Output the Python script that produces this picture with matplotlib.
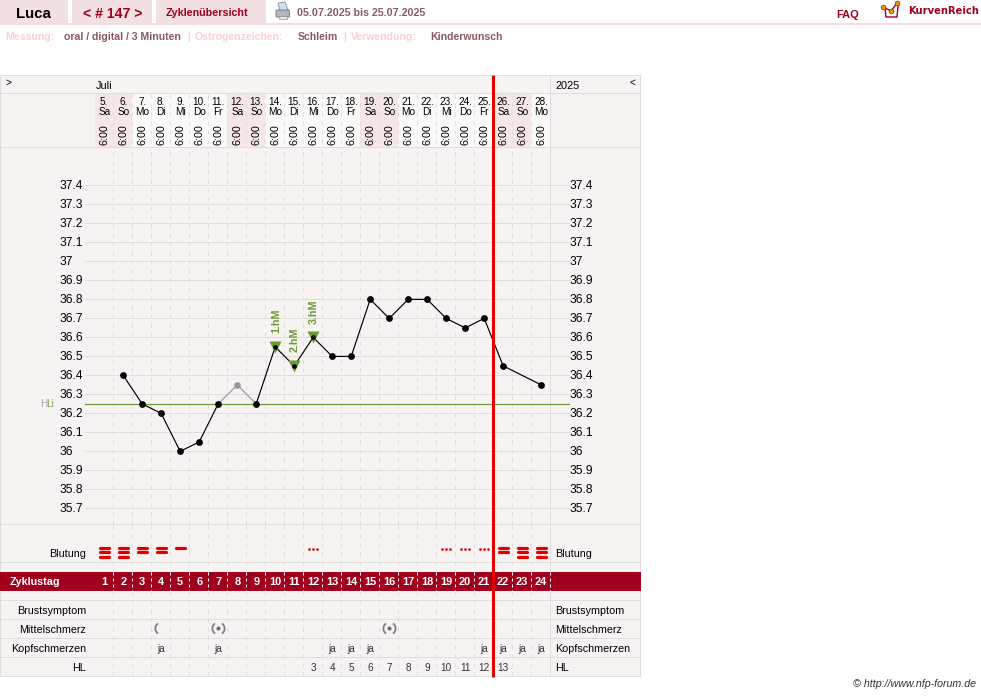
"""
Cycle temperature chart with header strip and symptom rows.
"""

import matplotlib

matplotlib.use("Agg")
import matplotlib.pyplot as plt
from matplotlib.patches import FancyBboxPatch, Polygon, Rectangle
from matplotlib.path import Path

plt.rcParams["font.family"] = ["Liberation Sans", "DejaVu Sans"]

W, H = 981, 696

# chart values
months = "Juli"
year = "2025"
dates = [5, 6, 7, 8, 9, 10, 11, 12, 13, 14, 15, 16, 17, 18, 19, 20, 21, 22, 23, 24, 25, 26, 27, 28]
weekdays = ["Sa", "So", "Mo", "Di", "Mi", "Do", "Fr", "Sa", "So", "Mo", "Di", "Mi", "Do", "Fr", "Sa", "So", "Mo", "Di", "Mi", "Do", "Fr", "Sa", "So", "Mo"]
cycle_days = list(range(1, 25))
temp_ticks = [37.4, 37.3, 37.2, 37.1, 37, 36.9, 36.8, 36.7, 36.6, 36.5, 36.4, 36.3, 36.2, 36.1, 36, 35.9, 35.8, 35.7]
temp_days = [2, 3, 4, 5, 6, 7, 8, 9, 10, 11, 12, 13, 14, 15, 16, 17, 18, 19, 20, 21, 22, 24]
temp_values = [36.4, 36.25, 36.2, 36.0, 36.05, 36.25, 36.35, 36.25, 36.55, 36.45, 36.6, 36.5, 36.5, 36.8, 36.7, 36.8, 36.8, 36.7, 36.65, 36.7, 36.45, 36.35]
excluded_day = 8
coverline = 36.25
peak_days = [10, 11, 12]
peak_values = [36.55, 36.45, 36.6]
peak_labels = ["1.hM", "2.hM", "3.hM"]

bleeding_days = [1, 2, 3, 4, 5, 12, 19, 20, 21, 22, 23, 24]
bleeding_levels = [3, 3, 2, 2, 1, 0, 0, 0, 0, 2, 3, 3]
midpain_days = [4, 7, 16]
midpain_kind = ["left", "both", "both"]
headache_days = [4, 7, 13, 14, 15, 21, 22, 23, 24]
hl_days = [12, 13, 14, 15, 16, 17, 18, 19, 20, 21, 22]
hl_values = [3, 4, 5, 6, 7, 8, 9, 10, 11, 12, 13]
row_names = ["Brustsymptom", "Mittelschmerz", "Kopfschmerzen", "HL"]

# colours
PANEL = "#f8f3f3"
CELL = "#fbf8f8"
WEEKEND = "#f5e6e7"
GRID = "#e0dddd"
TAB = "#f3e0e2"
PINK = "#f6dce0"
DARK = "#a0001e"
RED = "#e00000"
GREEN = "#6a9a32"
PAIN = "#808080"
THIN = 0.72
DASH = (0, (4, 5))


def px(size):
    # font size in page pixels
    return size * 0.72


def pixel_axes(box, xlim, ylim, zorder):
    # axes placed by page pixels (x0, y0, x1, y1), y pointing down on the page
    x0, y0, x1, y1 = box
    ax = fig.add_axes([x0 / W, 1 - y1 / H, (x1 - x0) / W, (y1 - y0) / H], zorder=zorder)
    ax.set_xlim(*xlim)
    ax.set_ylim(*ylim)
    ax.axis("off")
    ax.patch.set_alpha(0)
    return ax


fig = plt.figure(figsize=(W / 100, H / 100), dpi=100, facecolor="white")

left, right = 94.7, 550.7
top, bottom = 148, 524.5
y_of_374 = 185.4
temp_per_px = 0.1 / 19
day_range = (0.5, 24.5)
# column rules sit just left of the day boundary so they snap onto the pixel
EDGE = 0.4 / 19


def day_at(x_px):
    # page pixel to day units, for things running past the day columns
    return 0.5 + (x_px - left) / 19


page = pixel_axes((0, 0, W, H), (0, W), (H, 0), 0)
head = pixel_axes((left, 93.5, right, top), day_range, (top, 93.5), 1)
chart = pixel_axes(
    (left, top, right, bottom),
    day_range,
    (37.4 - (bottom - y_of_374) * temp_per_px, 37.4 + (y_of_374 - top) * temp_per_px),
    2,
)
rows = pixel_axes((left, bottom, right, 677), day_range, (677, bottom), 3)
front = pixel_axes((0, 0, W, H), (0, W), (H, 0), 4)

# header tabs
page.add_patch(Rectangle((0, 0), 68, 23, fc=TAB, ec="none"))
page.add_patch(Rectangle((72, 0), 80, 23, fc=TAB, ec="none"))
page.add_patch(Rectangle((156, 0), 110, 23, fc=TAB, ec="none"))
page.add_patch(Rectangle((0, 23), W, 2, fc=PINK, ec="none"))
page.text(33, 18, "Luca", fontsize=px(15), fontweight="bold", color="black", ha="center")
page.text(113, 18, "< # 147 >", fontsize=px(14), fontweight="bold", color=DARK, ha="center")
page.text(207, 16, "Zyklenübersicht", fontsize=px(10.8), fontweight="bold", color=DARK, ha="center")
page.text(297, 16, "05.07.2025 bis 25.07.2025", fontsize=px(10.6), fontweight="bold", color="#8a5a62")
page.text(836, 18, "FAQ", fontsize=px(11), fontweight="bold", color=DARK)
page.text(908, 14, "KurvenReich", fontsize=px(10), fontweight="bold", color=DARK, family="DejaVu Sans")

# printer icon
page.add_patch(Polygon([(278, 3), (285, 2), (288, 10), (280, 11)], fc="#cfe0f0", ec="#7f8fa0", lw=0.6))
page.add_patch(FancyBboxPatch((276.5, 10.5), 12.5, 6, boxstyle="round,pad=0.5", fc="#b4b8bc", ec="#70757a", lw=0.6))
page.add_patch(Rectangle((279, 16), 8, 2.5, fc="#e8e8e8", ec="#808080", lw=0.4))

# logo
page.plot([885, 886, 897, 898], [8, 17, 17, 6], color=DARK, lw=1)
page.plot([883, 891, 897], [7, 11, 3], color=DARK, lw=1)
page.plot([883, 891, 897], [7, 11, 3], "o", color="#f09010", ms=3.5, mec=DARK, mew=0.4)

# info line
info = [
    (5, "Messung:", "#fbd0d4"),
    (64, "oral / digital / 3 Minuten", "#8a5a62"),
    (187, "|", "#fbd0d4"),
    (195, "Östrogenzeichen:", "#fbd0d4"),
    (298, "Schleim", "#8a5a62"),
    (343, "|", "#fbd0d4"),
    (351, "Verwendung:", "#fbd0d4"),
    (430, "Kinderwunsch", "#8a5a62"),
]
for x0, label, colour in info:
    page.text(x0, 40, label, fontsize=px(10.5), fontweight="bold", color=colour)

# panel and rules
page.add_patch(Rectangle((0, 75), 640, 601, fc=PANEL, ec=GRID, lw=THIN, zorder=0))
for y0 in [93, 147, 524, 562, 600, 619, 638, 657]:
    page.plot([0, 640], [y0, y0], color=GRID, lw=THIN, zorder=2)
page.plot([550, 550], [75, 676], color=GRID, lw=THIN, zorder=2)

# day header cells and labels
for day, date, weekday in zip(cycle_days, dates, weekdays):
    colour = WEEKEND if weekday in ("Sa", "So") else CELL
    head.add_patch(Rectangle((day - 0.5 - EDGE, 94), 1, 53, fc=colour, ec="none", zorder=1))
    head.text(day, 105, f"{date}.", fontsize=px(10), ha="center", zorder=3)
    head.text(day, 115, weekday, fontsize=px(10), ha="center", zorder=3)
    head.text(day, 135, "6:00", fontsize=px(10.8), rotation=90, ha="center", va="center", zorder=3)
    head.plot([day - 0.5 - EDGE] * 2, [94, 147], color=GRID, lw=THIN, ls=DASH, zorder=2)

# dashed day columns, broken by the cycle day band
for day in cycle_days:
    edge = day - 0.5 - EDGE
    chart.plot([edge] * 2, chart.get_ylim(), color=GRID, lw=THIN, ls=DASH, zorder=1)
    rows.plot([edge] * 2, [bottom, 572], color=GRID, lw=THIN, ls=DASH, zorder=1)
    rows.plot([edge] * 2, [591, 677], color=GRID, lw=THIN, ls=DASH, zorder=1)

# temperature grid and labels
for value in temp_ticks:
    y0 = y_of_374 + (37.4 - value) / temp_per_px
    chart.plot([day_at(85), day_at(569)], [value, value], color=GRID, lw=THIN, zorder=1, clip_on=False)
    label = f"{value:g}"
    page.text(60, y0 + 3.8, label, fontsize=px(12), color="black")
    page.text(570, y0 + 3.8, label, fontsize=px(12), color="black")

# month header
page.text(6, 83, ">", fontsize=px(10), color="black", va="center")
page.text(96, 89, months, fontsize=px(11), color="black")
page.text(555, 89, year, fontsize=px(11), color="black")
page.text(630, 83, "<", fontsize=px(10), color="black", va="center")

# coverline, past both column edges
chart.plot([day_at(85), day_at(569)], [coverline, coverline], color=GREEN, lw=0.85, zorder=4, clip_on=False)
page.text(40, 407, "H", fontsize=px(10), color="#a8a8a8", zorder=4)
page.text(46, 407, "Li", fontsize=px(10), color="#88aa60", zorder=4)

# temperature curve, the excluded day stays grey
idx = temp_days.index(excluded_day)
chart.plot(temp_days[: idx], temp_values[: idx], color="black", lw=0.85, zorder=5)
chart.plot(temp_days[idx - 1 : idx + 2], temp_values[idx - 1 : idx + 2], color="#999999", lw=0.85, zorder=5)
chart.plot(temp_days[idx + 1 :], temp_values[idx + 1 :], color="black", lw=0.85, zorder=5)

# peak markers behind the points
for day, value, label in zip(peak_days, peak_values, peak_labels):
    chart.plot([day], [value], marker="v", ms=9, color=GREEN, mec="none", zorder=6)
    chart.annotate(
        label,
        (day, value),
        xytext=(0.5, 10),
        textcoords="offset points",
        rotation=90,
        ha="center",
        va="bottom",
        fontsize=px(10.8),
        fontweight="bold",
        color=GREEN,
        zorder=6,
    )

for day, value in zip(temp_days, temp_values):
    if day == excluded_day:
        chart.plot([day], [value], "o", color="#999999", ms=4.8, mec="none", zorder=7)
    elif day in peak_days:
        chart.plot([day], [value], "o", color="black", ms=3.4, mec="none", zorder=7)
    else:
        chart.plot([day], [value], "o", color="black", ms=4.9, mec="none", zorder=7)

# row labels on both sides
page.text(86, 557, "Blutung", fontsize=px(10.7), ha="right")
page.text(555, 557, "Blutung", fontsize=px(10.7))
for y0, name in zip([614, 633, 652, 671], row_names):
    page.text(86, y0, name, fontsize=px(10.7), ha="right")
    page.text(555, y0, name, fontsize=px(10.7))

# bleeding marks, one stripe per level, dots for spotting
for day, level in zip(bleeding_days, bleeding_levels):
    if level == 0:
        rows.plot([day - 0.2, day, day + 0.2], [548.5] * 3, "o", color=RED, ms=1.9, mec="none", zorder=5)
    else:
        for k in range(level):
            rows.plot([day - 0.24, day + 0.24], [548.2 + 4.2 * k] * 2, color=RED, lw=2.3, solid_capstyle="round", zorder=5)

# cycle day band
page.add_patch(Rectangle((0, 572), 640.5, 19, fc=DARK, ec="none", zorder=3))
page.text(10, 585, "Zyklustag", fontsize=px(10.7), fontweight="bold", color="white", zorder=4)
for day in cycle_days:
    rows.text(day, 585, str(day), fontsize=px(11), fontweight="bold", color="white", ha="center", zorder=6)
    rows.plot([day - 0.5 - EDGE] * 2, [572, 591], color="white", lw=THIN, ls=(0, (3, 3)), zorder=6)
rows.plot([24.5 - EDGE] * 2, [572, 591], color="white", lw=THIN, ls=(0, (3, 3)), zorder=6)

# middle pain symbols, arcs around a dot
left_arc = Path.arc(125, 235)
right_arc = Path.arc(-55, 55)
for day, kind in zip(midpain_days, midpain_kind):
    rows.plot([day], [628.3], marker=left_arc, ms=8.8, mfc="none", mec=PAIN, mew=1.3, zorder=5)
    if kind == "both":
        rows.plot([day], [628.3], marker=right_arc, ms=8.8, mfc="none", mec=PAIN, mew=1.3, zorder=5)
        rows.plot([day], [628.3], "o", color="#707070", ms=3, mec="none", zorder=5)

for day in headache_days:
    rows.text(day, 652, "ja", fontsize=px(10), color="#333333", ha="center", zorder=5)

for day, value in zip(hl_days, hl_values):
    rows.text(day, 671, str(value), fontsize=px(10), color="#333333", ha="center", zorder=5)

# ovulation line over everything
front.plot([493, 493], [75, 677], color=RED, lw=2.16, solid_capstyle="butt")

# page foot
page.text(976, 684, "© http://www.nfp-forum.de", fontsize=px(10.6), fontstyle="italic", color="#333333", ha="right", va="center")

fig.savefig("out.png", dpi=100)
